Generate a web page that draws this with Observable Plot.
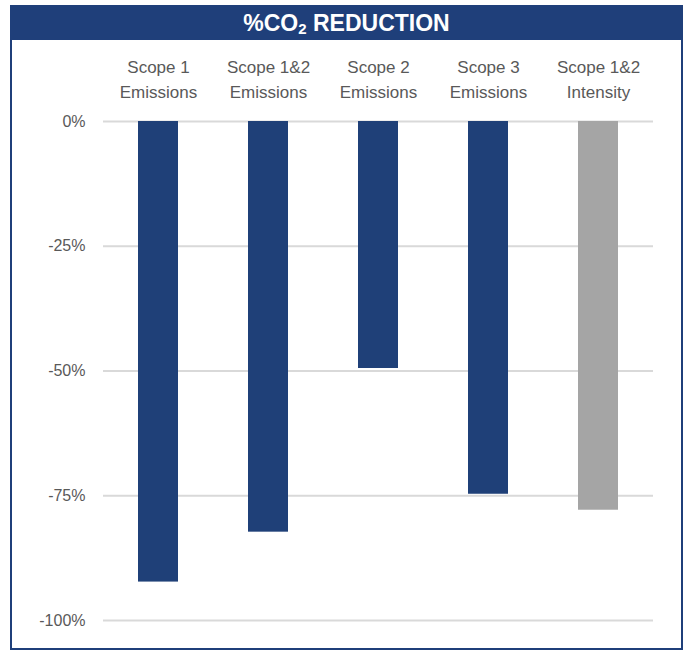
<!DOCTYPE html>
<html>
<head>
<meta charset="utf-8">
<script src="https://cdn.jsdelivr.net/npm/d3@7"></script>
<script src="https://cdn.jsdelivr.net/npm/@observablehq/plot@0.6"></script>
<style>
  html, body { margin: 0; padding: 0; background: #fff; }
  #frame {
    position: absolute; left: 10px; top: 5px;
    width: 669px; height: 641px;
    border: 2px solid #1F3F7A;
    font-family: "Liberation Sans", Arial, sans-serif;
    overflow: hidden;
  }
  #title {
    height: 33px; background: #1F3F7A; color: #fff;
    font-weight: bold; font-size: 23px; text-align: center;
    line-height: 33px;
  }
  #title sub { font-size: 15px; vertical-align: -3px; line-height: 0; }
  #chart svg { display: block; }
</style>
</head>
<body>
<div id="frame">
  <div id="title">%CO<sub>2</sub> REDUCTION</div>
  <div id="chart"></div>
</div>
<script>
const categories = ["Scope 1\nEmissions", "Scope 1&2\nEmissions", "Scope 2\nEmissions", "Scope 3\nEmissions", "Scope 1&2\nIntensity"];
const reductions = [-92.3, -82.3, -49.5, -74.7, -77.9];
const barColors = ["#1F4078", "#1F4078", "#1F4078", "#1F4078", "#A5A5A5"];
const yTicks = [0, -25, -50, -75, -100];

const data = categories.map((c, i) => ({category: c, value: reductions[i], color: barColors[i]}));

const chart = Plot.plot({
  width: 669,
  height: 606,
  marginTop: 81,
  marginBottom: 26,
  marginLeft: 91,
  marginRight: 28,
  style: {fontFamily: "'Liberation Sans', Arial, sans-serif", color: "#595959", background: "#fff"},
  x: {domain: categories, paddingInner: 0.64, paddingOuter: 0.32, label: null},
  y: {domain: [-100, 0], label: null},
  marks: [
    Plot.gridY(yTicks, {stroke: "#D9D9D9", strokeWidth: 2, strokeOpacity: 1}),
    Plot.barY(data, {x: "category", y: "value", fill: "color"}),
    Plot.axisX({anchor: "top", tickSize: 0, tickPadding: 24, fontSize: 17, lineHeight: 1.45, fill: "#595959", label: null}),
    Plot.axisY(yTicks, {tickSize: 0, tickPadding: 18, fontSize: 16, fill: "#595959", tickFormat: d => d + "%", label: null})
  ]
});
document.getElementById("chart").appendChild(chart);
</script>
</body>
</html>
